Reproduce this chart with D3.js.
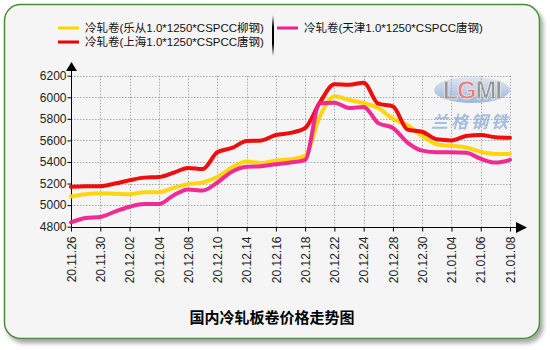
<!DOCTYPE html>
<html><head><meta charset="utf-8">
<script src="https://cdn.jsdelivr.net/npm/d3@7"></script>
<style>
body{margin:0;background:#fff;}
svg{display:block;}
</style></head>
<body>
<svg id="c" width="550" height="350"></svg>
<script>
const dates = ["20.11.26","20.11.27","20.11.30","20.12.01","20.12.02","20.12.03","20.12.04","20.12.07","20.12.08","20.12.09","20.12.10","20.12.11","20.12.14","20.12.15","20.12.16","20.12.17","20.12.18","20.12.21","20.12.22","20.12.23","20.12.24","20.12.25","20.12.28","20.12.29","20.12.30","20.12.31","21.01.04","21.01.05","21.01.06","21.01.07","21.01.08"];
const lecong = [5080,5100,5110,5105,5100,5120,5120,5160,5195,5210,5260,5350,5405,5390,5415,5425,5460,5820,6010,5975,5945,5900,5800,5740,5640,5565,5550,5535,5495,5475,5475];
const shanghai = [5170,5175,5175,5200,5230,5255,5260,5300,5345,5335,5490,5530,5595,5600,5650,5670,5715,5950,6120,6115,6135,5940,5915,5700,5680,5610,5600,5640,5650,5630,5625];
const tianjin = [4840,4880,4890,4940,4985,5010,5010,5090,5145,5135,5210,5310,5355,5360,5380,5395,5420,5945,5950,5900,5910,5760,5715,5580,5505,5490,5490,5485,5430,5395,5420];
const yTicks = [4800,5000,5200,5400,5600,5800,6000,6200];
const seriesNames = ["冷轧卷(乐从1.0*1250*CSPCC柳钢)","冷轧卷(上海1.0*1250*CSPCC唐钢)","冷轧卷(天津1.0*1250*CSPCC唐钢)"];
const title = "国内冷轧板卷价格走势图";

const svg = d3.select("#c");
const defs = svg.append("defs");
const f = defs.append("filter").attr("id","sh").attr("x","-5%").attr("y","-5%").attr("width","115%").attr("height","115%");
f.append("feDropShadow").attr("dx",3).attr("dy",4).attr("stdDeviation",2).attr("flood-color","#000").attr("flood-opacity",0.35);
const g1 = defs.append("linearGradient").attr("id","sep").attr("x1",0).attr("y1",0).attr("x2",0).attr("y2",1);
g1.append("stop").attr("offset","0%").attr("stop-color","#000").attr("stop-opacity",0);
g1.append("stop").attr("offset","30%").attr("stop-color","#000").attr("stop-opacity",1);
g1.append("stop").attr("offset","70%").attr("stop-color","#000").attr("stop-opacity",1);
g1.append("stop").attr("offset","100%").attr("stop-color","#000").attr("stop-opacity",0);
const g2 = defs.append("linearGradient").attr("id","oval").attr("x1",0).attr("y1",0).attr("x2",0).attr("y2",1);
g2.append("stop").attr("offset","0%").attr("stop-color","#d3e0f1");
g2.append("stop").attr("offset","100%").attr("stop-color","#7c9fd0");

// frame
svg.append("rect").attr("x",4.5).attr("y",4.5).attr("width",535).attr("height",334).attr("rx",16)
  .attr("fill","#f5f5f5").attr("stroke","#4b8b3b").attr("stroke-width",1.5).attr("filter","url(#sh)");

const x = d3.scalePoint().domain(dates).range([71,510]);
const y = d3.scaleLinear().domain([4800,6200]).range([226.7,75.7]);
const tickDates = dates.filter((d,i)=>i%2===0);

// watermark
const wm = svg.append("g").attr("opacity",0.9);
wm.append("ellipse").attr("cx",472).attr("cy",90).attr("rx",38).attr("ry",13).attr("fill","url(#oval)").attr("opacity",0.8);
const lg = wm.append("text").attr("x",472).attr("y",99).attr("text-anchor","middle")
  .attr("font-family","Liberation Sans, Arial").attr("font-size",25).attr("font-weight","bold")
  .attr("fill","#8c8c8c").attr("stroke","#e8e8e8").attr("stroke-width",0.8).attr("letter-spacing","-1");
lg.append("tspan").text("L");
lg.append("tspan").attr("fill","#e87070").text("G");
lg.append("tspan").text("MI");
wm.append("text").attr("x",471).attr("y",122).attr("dy","0.35em").attr("text-anchor","middle")
  .attr("font-family","Noto Sans CJK SC").attr("font-size",17).attr("font-weight","bold").attr("fill","#9db8dc")
  .attr("letter-spacing","3").attr("font-style","italic").text("兰格钢铁");

// grid
const grid = svg.append("g").attr("stroke","#a8a8a8").attr("stroke-width",1).attr("stroke-dasharray","1.5,1.5");
yTicks.filter(v=>v>4800).forEach(v=>{
  grid.append("line").attr("x1",71).attr("x2",510).attr("y1",Math.round(y(v))+0.5).attr("y2",Math.round(y(v))+0.5);
});
tickDates.slice(1).forEach(d=>{
  grid.append("line").attr("x1",Math.round(x(d))+0.5).attr("x2",Math.round(x(d))+0.5).attr("y1",y(6200)).attr("y2",y(4800));
});

// axes
const yAxis = svg.append("g").attr("transform","translate(71.5,0)")
  .call(d3.axisLeft(y).tickValues(yTicks).tickSize(4).tickPadding(1).tickFormat(d3.format("d")));
yAxis.select(".domain").remove();
yAxis.selectAll("text").attr("font-family","Liberation Sans, Arial").attr("font-size",12).attr("fill","#222");
svg.append("line").attr("x1",71.5).attr("x2",71.5).attr("y1",227).attr("y2",68).attr("stroke","#000");
svg.append("path").attr("d","M71.5,62 L66,71 L77,71 Z").attr("fill","#000");

const xAxis = svg.append("g").attr("transform","translate(0,227.5)")
  .call(d3.axisBottom(x).tickValues(tickDates).tickSize(4).tickPadding(3));
xAxis.select(".domain").remove();
xAxis.selectAll("text").attr("font-family","Liberation Sans, Arial").attr("font-size",12).attr("fill","#222")
  .attr("transform","rotate(-90)").attr("text-anchor","end").attr("x",-9).attr("y",0).attr("dy","0.35em");
svg.append("line").attr("x1",71).attr("x2",518).attr("y1",227.5).attr("y2",227.5).attr("stroke","#000");
svg.append("path").attr("d","M527,227.5 L516,222 L516,233 Z").attr("fill","#000");

// lines
const line = d3.line().x((d,i)=>x(dates[i])).y(d=>y(d)).curve(d3.curveMonotoneX);
const series = [
  {vals:lecong, color:"#ffd400"},
  {vals:shanghai, color:"#ee0000"},
  {vals:tianjin, color:"#f0208c"}
];
series.forEach(s=>{
  svg.append("path").attr("d",line(s.vals)).attr("fill","none").attr("stroke",s.color)
    .attr("stroke-width",4).attr("stroke-linejoin","round").attr("stroke-linecap","round").attr("opacity",0.95);
});

// legend
const leg = [{x:58,y:28,i:0},{x:58,y:42,i:1},{x:277,y:28,i:2}];
leg.forEach(l=>{
  svg.append("line").attr("x1",l.x).attr("x2",l.x+21).attr("y1",l.y).attr("y2",l.y)
    .attr("stroke",series[l.i].color).attr("stroke-width",3);
  svg.append("text").attr("x",l.x+27).attr("y",l.y+4.2)
    .attr("font-family","Liberation Sans, Noto Sans CJK SC").attr("font-size",11.5).attr("fill","#111")
    .text(seriesNames[l.i]);
});
svg.append("rect").attr("x",272).attr("y",15).attr("width",2).attr("height",41).attr("fill","url(#sep)");

// title
svg.append("text").attr("x",272).attr("y",318).attr("dy","0.35em").attr("text-anchor","middle")
  .attr("font-family","Noto Sans CJK SC").attr("font-weight","bold").attr("font-size",15).attr("fill","#000")
  .text(title);
</script>
</body></html>
